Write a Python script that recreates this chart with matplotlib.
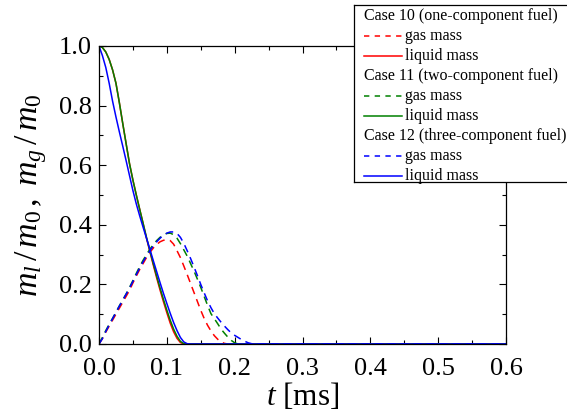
import numpy as np
import matplotlib
matplotlib.use("Agg")
import matplotlib.pyplot as plt
from matplotlib.ticker import MultipleLocator, FormatStrFormatter

plt.rcParams["font.family"] = "Liberation Serif"
plt.rcParams["mathtext.fontset"] = "custom"
plt.rcParams["mathtext.rm"] = "Liberation Serif"
plt.rcParams["mathtext.it"] = "Liberation Serif:italic"

# time grid [ms]
t = [0.0, 0.005, 0.01, 0.015, 0.02, 0.025, 0.03, 0.035, 0.04, 0.045,
     0.05, 0.055, 0.06, 0.065, 0.07, 0.075, 0.08, 0.085, 0.09, 0.095,
     0.1, 0.105, 0.11, 0.115, 0.12, 0.125, 0.13, 0.135, 0.14, 0.145,
     0.15, 0.155, 0.16, 0.165, 0.17, 0.175, 0.18, 0.185, 0.19, 0.195,
     0.2, 0.205, 0.21, 0.215, 0.22, 0.225, 0.23, 0.3, 0.4, 0.5, 0.6]

# liquid mass fraction m_l/m_0
liq10 = [1.0, 0.995, 0.98, 0.955, 0.92, 0.875, 0.81, 0.74, 0.672, 0.605,
         0.55, 0.5, 0.452, 0.405, 0.355, 0.31, 0.265, 0.222, 0.181, 0.142,
         0.105, 0.07, 0.041, 0.019, 0.005, 0.0, 0.0, 0.0, 0.0, 0.0,
         0.0, 0.0, 0.0, 0.0, 0.0, 0.0, 0.0, 0.0, 0.0, 0.0,
         0.0, 0.0, 0.0, 0.0, 0.0, 0.0, 0.0, 0.0, 0.0, 0.0, 0.0]
liq11 = [1.0, 0.995, 0.98, 0.955, 0.92, 0.875, 0.81, 0.74, 0.672, 0.605,
         0.55, 0.5, 0.452, 0.405, 0.358, 0.313, 0.27, 0.228, 0.188, 0.15,
         0.114, 0.08, 0.05, 0.026, 0.009, 0.001, 0.0, 0.0, 0.0, 0.0,
         0.0, 0.0, 0.0, 0.0, 0.0, 0.0, 0.0, 0.0, 0.0, 0.0,
         0.0, 0.0, 0.0, 0.0, 0.0, 0.0, 0.0, 0.0, 0.0, 0.0, 0.0]
liq12 = [1.0, 0.968, 0.928, 0.875, 0.815, 0.762, 0.712, 0.664, 0.615, 0.565,
         0.515, 0.47, 0.43, 0.392, 0.355, 0.318, 0.28, 0.243, 0.206, 0.17,
         0.136, 0.103, 0.072, 0.045, 0.022, 0.007, 0.001, 0.0, 0.0, 0.0,
         0.0, 0.0, 0.0, 0.0, 0.0, 0.0, 0.0, 0.0, 0.0, 0.0,
         0.0, 0.0, 0.0, 0.0, 0.0, 0.0, 0.0, 0.0, 0.0, 0.0, 0.0]

# gas mass fraction m_g/m_0
gas10 = [0.0, 0.018, 0.04, 0.06, 0.08, 0.1, 0.12, 0.14, 0.16, 0.18,
         0.205, 0.228, 0.25, 0.27, 0.29, 0.307, 0.322, 0.334, 0.343, 0.348,
         0.35, 0.347, 0.335, 0.313, 0.29, 0.262, 0.233, 0.203, 0.173, 0.143,
         0.113, 0.086, 0.063, 0.044, 0.028, 0.016, 0.007, 0.002, 0.0, 0.0,
         0.0, 0.0, 0.0, 0.0, 0.0, 0.0, 0.0, 0.0, 0.0, 0.0, 0.0]
gas11 = [0.0, 0.022, 0.045, 0.066, 0.086, 0.107, 0.128, 0.148, 0.168, 0.19,
         0.213, 0.237, 0.26, 0.281, 0.3, 0.318, 0.334, 0.347, 0.358, 0.366,
         0.371, 0.372, 0.367, 0.355, 0.337, 0.316, 0.295, 0.27, 0.245, 0.218,
         0.19, 0.16, 0.13, 0.102, 0.085, 0.068, 0.05, 0.036, 0.023, 0.012,
         0.004, 0.0, 0.0, 0.0, 0.0, 0.0, 0.0, 0.0, 0.0, 0.0, 0.0]
gas12 = [0.0, 0.018, 0.042, 0.064, 0.085, 0.106, 0.127, 0.147, 0.167, 0.188,
         0.21, 0.233, 0.255, 0.276, 0.295, 0.313, 0.329, 0.343, 0.355, 0.365,
         0.372, 0.376, 0.376, 0.371, 0.358, 0.338, 0.313, 0.287, 0.259, 0.23,
         0.2, 0.172, 0.145, 0.122, 0.102, 0.087, 0.073, 0.06, 0.048, 0.037,
         0.029, 0.022, 0.015, 0.009, 0.004, 0.001, 0.0, 0.0, 0.0, 0.0, 0.0]

cases = ["Case 10 (one-component fuel)",
         "Case 11 (two-component fuel)",
         "Case 12 (three-component fuel)"]
colors = ["#ff0000", "#008000", "#0000ff"]
dash = (0, (5.0, 3.5))

W, H = 567, 412
fig = plt.figure(figsize=(W / 100, H / 100), dpi=100)
ax = fig.add_axes([99 / W, 1 - 344 / H, 407 / W, 298 / H])

for gas, liq, c in zip([gas10, gas11, gas12], [liq10, liq11, liq12], colors):
    ax.plot(t, gas, color=c, lw=1.1, ls=dash)
    ax.plot(t, liq, color=c, lw=1.1)

ax.set_xlim(0, 0.6)
ax.set_ylim(0, 1.0)
ax.xaxis.set_major_locator(MultipleLocator(0.1))
ax.xaxis.set_minor_locator(MultipleLocator(0.05))
ax.yaxis.set_major_locator(MultipleLocator(0.2))
ax.yaxis.set_minor_locator(MultipleLocator(0.1))
ax.xaxis.set_major_formatter(FormatStrFormatter("%.1f"))
ax.yaxis.set_major_formatter(FormatStrFormatter("%.1f"))
ax.tick_params(which="both", direction="in", top=True, right=True,
               width=0.8, labelsize=19)
ax.tick_params(which="major", length=5)
ax.tick_params(which="minor", length=3)
ax.tick_params(axis="x", which="major", pad=10)
ax.tick_params(axis="y", which="major", pad=5)
for s in ax.spines.values():
    s.set_linewidth(0.9)

ax.set_xlabel("$t$ [ms]", fontsize=22.5, labelpad=1)
ax.set_ylabel(r"$m_l\,/\,m_\mathit{0}\,,\;m_g\,/\,m_\mathit{0}$",
              fontsize=24.5, labelpad=7)

# legend panel, coordinates in pixels from the top-left corner of the box
lg = fig.add_axes([354 / W, 1 - 182 / H, 300 / W, 177 / H])
lg.set_xlim(0, 300)
lg.set_ylim(177, 0)
lg.set_xticks([])
lg.set_yticks([])
lg.set_facecolor("white")
for s in lg.spines.values():
    s.set_linewidth(0.9)

row = 20.0
y0 = 10.5
for i, (name, c) in enumerate(zip(cases, colors)):
    yc = y0 + 3 * i * row
    lg.text(10, yc, name, fontsize=11.5, va="center", ha="left")
    lg.plot([10, 48], [yc + row, yc + row], color=c, lw=1.1, ls=(0, (3.5, 3.5)))
    lg.text(51, yc + row, "gas mass", fontsize=11.5, va="center", ha="left")
    lg.plot([10, 48], [yc + 2 * row, yc + 2 * row], color=c, lw=1.1)
    lg.text(51, yc + 2 * row, "liquid mass", fontsize=11.5, va="center", ha="left")

fig.savefig("out.png", dpi=100)
